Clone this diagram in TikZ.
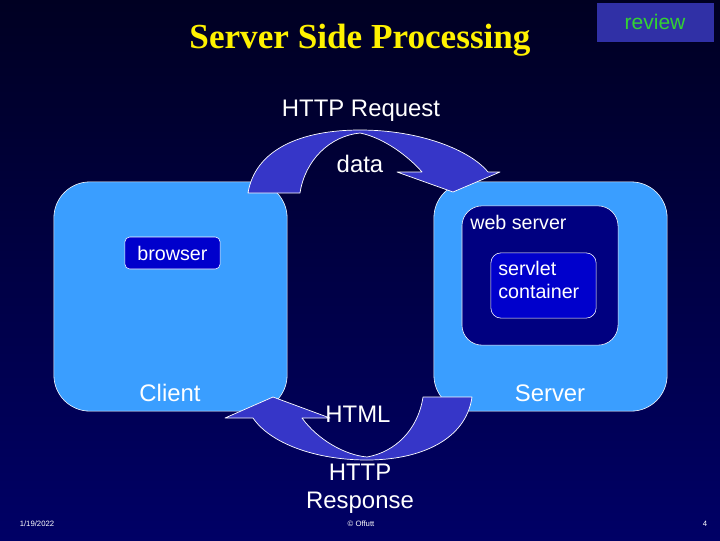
\documentclass[tikz,border=0pt]{standalone}
\usepackage{fontspec}
\setmainfont{Liberation Sans}
\newfontfamily\titlefont{Liberation Serif}
\usepackage{xcolor}
\usepackage{tikz}
\usetikzlibrary{shapes,arrows,positioning,calc}

\definecolor{slidetop}{RGB}{0,0,34}
\definecolor{slidebottom}{RGB}{0,0,102}
\definecolor{panelblue}{RGB}{58,158,255}
\definecolor{navybox}{RGB}{0,0,128}
\definecolor{royalbox}{RGB}{0,0,204}
\definecolor{arrowblue}{RGB}{54,54,200}
\definecolor{reviewblue}{RGB}{48,48,166}
\definecolor{reviewgreen}{RGB}{51,210,51}

\begin{document}
\begin{tikzpicture}[
    x=0.025cm, y=-0.025cm,
    panel/.style={rectangle, rounded corners=0.9cm, draw=white, fill=panelblue, thin, minimum width=5.83cm, minimum height=5.73cm},
    webbox/.style={rectangle, rounded corners=0.5cm, draw=white, fill=navybox, thin, minimum width=3.9cm, minimum height=3.48cm},
    innerbox/.style={rectangle, rounded corners=0.25cm, draw=white, fill=royalbox, thin},
    bigtext/.style={text=white, inner sep=0pt, font=\fontsize{17}{20}\selectfont},
    smalltext/.style={text=white, inner sep=0pt, font=\fontsize{14}{17}\selectfont},
    foot/.style={text=white, inner sep=0pt, font=\fontsize{5.5}{6}\selectfont},
    bendarrow/.style={draw=white, fill=arrowblue, line width=0.5pt, line join=round}
]

\useasboundingbox (0,0) rectangle (720,540);
\shade[top color=slidetop, bottom color=slidebottom] (0,0) rectangle (720,540);

\node (title) [text=yellow, inner sep=0pt, font=\titlefont\bfseries\fontsize{25}{30}\selectfont] at (360,40) {Server Side Processing};
\node (review) [rectangle, draw=slidetop, fill=reviewblue, minimum width=2.95cm, minimum height=1cm, text=reviewgreen, font=\fontsize{15}{18}\selectfont] at (655,22) {review};

\node (client) [panel] at (170.5,296.5) {};
\node (server) [panel] at (550.5,296.5) {};
\node (webserver) [webbox] at (540,275.5) {};
\node (servlet) [innerbox, minimum width=2.63cm, minimum height=1.63cm] at (543.5,285.5) {};
\node (browser) [innerbox, rounded corners=0.12cm, minimum width=2.38cm, minimum height=0.8cm] at (172.5,253) {};

\draw [bendarrow] (248,193) .. controls (255,150) and (300,130) .. (360,130)
    .. controls (420,130) and (470,150) .. (488,172) -- (500,172) -- (453,192) -- (397,172) -- (422,172)
    .. controls (410,158) and (385,138) .. (360,133)
    .. controls (330,136) and (305,160) .. (300,193) -- cycle;

\draw [bendarrow] (472,397) .. controls (466,440) and (420,460) .. (367,460)
    .. controls (315,460) and (270,443) .. (253,418) -- (225,418) -- (273,397) -- (330,418) -- (302,418)
    .. controls (318,440) and (345,455) .. (367,457)
    .. controls (395,452) and (418,430) .. (423,397) -- cycle;

\node (browserlbl) [smalltext] at (browser) {browser};
\node (weblbl) [smalltext, anchor=west] at (470,222) {web server};
\node (servletlbl) [smalltext, anchor=west, align=left] at (498,280) {servlet\\container};
\node (clientlbl) [bigtext] at (170,393) {Client};
\node (serverlbl) [bigtext] at (550,393) {Server};

\node (request) [bigtext] at (361,111) {HTTP Request};
\node (data) [bigtext] at (360,164) {data};
\node (html) [bigtext] at (358,414) {HTML};
\node (response) [bigtext, align=center] at (360,489) {HTTP\\Response};

\node (date) [foot] at (37,524) {1/19/2022};
\node (owner) [foot] at (361,524) {© Offutt};
\node (page) [foot] at (705,524) {4};

\end{tikzpicture}
\end{document}
